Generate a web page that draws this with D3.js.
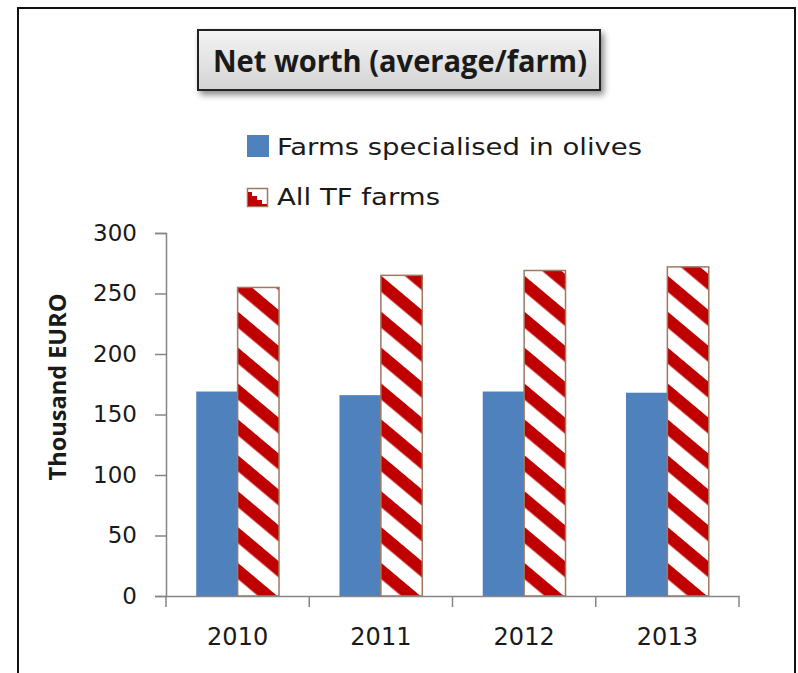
<!DOCTYPE html>
<html>
<head>
<meta charset="utf-8">
<script src="https://d3js.org/d3.v7.min.js"></script>
<style>
  body { margin: 0; padding: 0; background: #ffffff; }
  svg text { font-family: "DejaVu Sans", sans-serif; fill: #1a1a1a; }
</style>
</head>
<body>
<div id="chart"></div>
<script>
// data
var years = ["2010", "2011", "2012", "2013"];
var olives = [169, 166, 169, 168];
var allTF = [255, 265, 269, 272];
var seriesNames = ["Farms specialised in olives", "All TF farms"];
var yTicks = [0, 50, 100, 150, 200, 250, 300];

var width = 798, height = 673;
var svg = d3.select("#chart").append("svg")
    .attr("width", width).attr("height", height);

var defs = svg.append("defs");

// shadow for title box
var f = defs.append("filter").attr("id", "shadow")
    .attr("x", "-10%").attr("y", "-20%").attr("width", "130%").attr("height", "160%");
f.append("feDropShadow").attr("dx", 3).attr("dy", 4).attr("stdDeviation", 3)
    .attr("flood-color", "#000").attr("flood-opacity", 0.45);

var g1 = defs.append("linearGradient").attr("id", "titleGrad")
    .attr("x1", 0).attr("y1", 0).attr("x2", 0).attr("y2", 1);
g1.append("stop").attr("offset", "0%").attr("stop-color", "#f4f4f4");
g1.append("stop").attr("offset", "100%").attr("stop-color", "#d4d4d4");

// diagonal hatch, red on white
var P = 27.5;
var pat = defs.append("pattern").attr("id", "hatch")
    .attr("patternUnits", "userSpaceOnUse")
    .attr("width", P).attr("height", P)
    .attr("patternTransform", "rotate(40)");
pat.append("rect").attr("width", P).attr("height", P).attr("fill", "#ffffff");
pat.append("rect").attr("width", P).attr("height", P * 0.45).attr("fill", "#c00000");

// outer frame
svg.append("rect").attr("x", 18).attr("y", 8).attr("width", 777).attr("height", 700)
    .attr("fill", "none").attr("stroke", "#111").attr("stroke-width", 2);

// title box
svg.append("rect").attr("x", 198).attr("y", 30).attr("width", 402).attr("height", 60)
    .attr("fill", "url(#titleGrad)").attr("stroke", "#222").attr("stroke-width", 2)
    .attr("filter", "url(#shadow)");
svg.append("text").attr("x", 213).attr("y", 72)
    .attr("textLength", 374).attr("lengthAdjust", "spacingAndGlyphs")
    .style("font-family", "'Open Sans', sans-serif")
    .style("font-size", "31px").style("font-weight", "bold")
    .text("Net worth (average/farm)");

// legend
var legend = svg.append("g");
legend.append("rect").attr("x", 247).attr("y", 135).attr("width", 22).attr("height", 22)
    .attr("fill", "#4f81bd");
legend.append("text").attr("x", 277).attr("y", 155)
    .attr("textLength", 365).attr("lengthAdjust", "spacingAndGlyphs")
    .style("font-size", "23px").text(seriesNames[0]);
legend.append("rect").attr("x", 247.5).attr("y", 188.5).attr("width", 20).attr("height", 18)
    .attr("fill", "#ffffff").attr("stroke", "#a07860").attr("stroke-width", 1.5);
legend.append("path")
    .attr("d", "M248,192 L252,192 L252,196 L257,196 L257,200 L262,200 L262,204 L267,204 L267,206 L248,206 Z")
    .attr("fill", "#c00000");
legend.append("text").attr("x", 277).attr("y", 205)
    .attr("textLength", 163).attr("lengthAdjust", "spacingAndGlyphs")
    .style("font-size", "23px").text(seriesNames[1]);

// scales
var plotLeft = 166, plotRight = 739, plotTop = 233, plotBottom = 596;
var x = d3.scaleBand().domain(years).range([plotLeft, plotRight]).paddingInner(0).paddingOuter(0);
var y = d3.scaleLinear().domain([0, 300]).range([plotBottom, plotTop]);
var x1 = d3.scaleBand().domain([0, 1]).range([0, x.bandwidth()]).paddingOuter(0.73).paddingInner(0);

var axisColor = "#868686";

// y axis
var yAxis = svg.append("g").attr("transform", "translate(" + plotLeft + ",0)")
    .call(d3.axisLeft(y).tickValues(yTicks).tickSize(11).tickPadding(18));
yAxis.select(".domain").attr("stroke", axisColor).attr("stroke-width", 1.5);
yAxis.selectAll(".tick line").attr("stroke", axisColor).attr("stroke-width", 1.5);
yAxis.selectAll(".tick text").style("font-size", "23px")
    .style("font-family", "'DejaVu Sans', sans-serif").attr("fill", "#1a1a1a");

svg.append("text")
    .attr("transform", "translate(66,387) rotate(-90)")
    .attr("text-anchor", "middle")
    .attr("textLength", 187).attr("lengthAdjust", "spacingAndGlyphs")
    .style("font-family", "'Open Sans', sans-serif")
    .style("font-size", "23px").style("font-weight", "bold")
    .text("Thousand EURO");

// bars
var groups = svg.append("g").selectAll("g").data(years).enter().append("g")
    .attr("transform", function(d) { return "translate(" + x(d) + ",0)"; });

groups.append("rect")
    .attr("x", x1(0))
    .attr("y", function(d, i) { return y(olives[i]); })
    .attr("width", x1.bandwidth())
    .attr("height", function(d, i) { return plotBottom - y(olives[i]); })
    .attr("fill", "#4f81bd");

groups.append("rect")
    .attr("x", x1(1))
    .attr("y", function(d, i) { return y(allTF[i]); })
    .attr("width", x1.bandwidth())
    .attr("height", function(d, i) { return plotBottom - y(allTF[i]); })
    .attr("fill", "url(#hatch)")
    .attr("stroke", "#a07860").attr("stroke-width", 1.5);

// x axis
var xAxis = svg.append("g").attr("transform", "translate(0," + plotBottom + ")")
    .call(d3.axisBottom(x).tickSize(0).tickPadding(32));
xAxis.select(".domain").attr("stroke", axisColor).attr("stroke-width", 1.5);
xAxis.selectAll(".tick text").style("font-size", "24px")
    .style("font-family", "'DejaVu Sans', sans-serif").attr("fill", "#1a1a1a");
// category separators
svg.append("g").selectAll("line")
    .data(years.concat(["end"]))
    .enter().append("line")
    .attr("x1", function(d, i) { return plotLeft + i * x.bandwidth(); })
    .attr("x2", function(d, i) { return plotLeft + i * x.bandwidth(); })
    .attr("y1", plotBottom).attr("y2", plotBottom + 11)
    .attr("stroke", axisColor).attr("stroke-width", 1.5);
</script>
</body>
</html>
